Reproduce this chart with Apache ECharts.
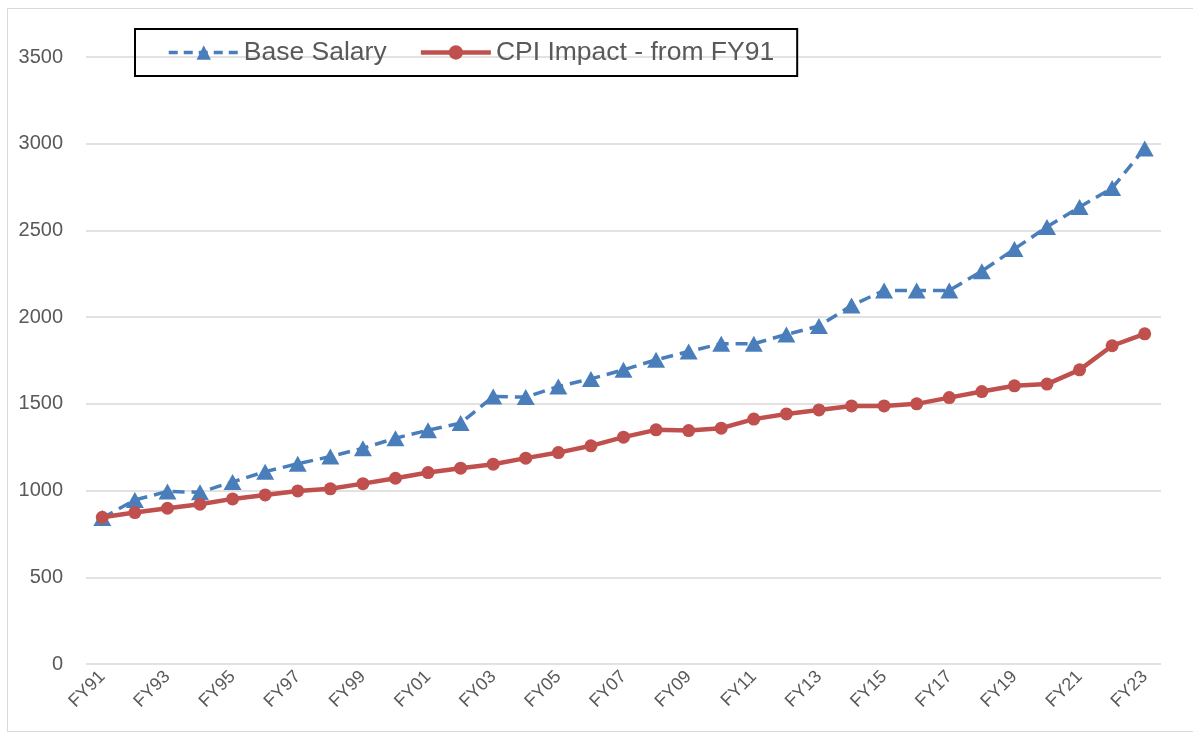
<!DOCTYPE html>
<html>
<head>
<meta charset="utf-8">
<script src="https://cdn.jsdelivr.net/npm/echarts@6/dist/echarts.min.js"></script>
<style>
  html, body { margin: 0; padding: 0; background: #fff; }
  #chart { width: 1193px; height: 734px; }
</style>
</head>
<body>
<div id="chart"></div>
<script>
var categories = ['FY91','FY92','FY93','FY94','FY95','FY96','FY97','FY98','FY99','FY00',
  'FY01','FY02','FY03','FY04','FY05','FY06','FY07','FY08','FY09','FY10',
  'FY11','FY12','FY13','FY14','FY15','FY16','FY17','FY18','FY19','FY20',
  'FY21','FY22','FY23'];
var baseSalary = [842, 946, 995, 990, 1050, 1109, 1155, 1196, 1244, 1302,
  1348, 1389, 1542, 1539, 1600, 1644, 1696, 1754, 1802, 1847,
  1847, 1900, 1949, 2067, 2154, 2154, 2154, 2265, 2393, 2520,
  2635, 2744, 2973];
var cpiImpact = [846, 873, 898, 921, 952, 975, 998, 1010, 1040, 1071,
  1104, 1129, 1152, 1187, 1219, 1258, 1308, 1350, 1346, 1360,
  1412, 1442, 1465, 1488, 1488, 1500, 1536, 1571, 1604, 1614,
  1696, 1835, 1904];
var seriesNames = ['Base Salary', 'CPI Impact - from FY91'];

var FONT = '"Liberation Sans", Arial, sans-serif';
var BLUE = '#4a7ebb', RED = '#c0504d';
var chart = echarts.init(document.getElementById('chart'), null, { renderer: 'canvas' });
chart.setOption({
  animation: false,
  backgroundColor: '#fff',
  graphic: [{
    type: 'rect',
    shape: { x: 7.5, y: 8.5, width: 1200, height: 723 },
    style: { fill: 'none', stroke: '#d9d9d9', lineWidth: 1 },
    silent: true, z: -10
  }],
  grid: { left: 86, right: 32, top: 57, bottom: 70, containLabel: false },
  legend: {
    data: [
      { name: seriesNames[0], lineStyle: { width: 3.5, type: [9, 6], color: BLUE }, itemStyle: { color: BLUE } },
      { name: seriesNames[1], lineStyle: { width: 4.5, color: RED }, itemStyle: { color: RED } }
    ],
    left: 135, top: 29,
    orient: 'horizontal',
    borderColor: '#000', borderWidth: 2,
    padding: [10, 23, 10, 32],
    itemGap: 32,
    itemWidth: 70, itemHeight: 18,
    textStyle: { fontSize: 26.5, color: '#595959', fontFamily: FONT }
  },
  xAxis: {
    type: 'category',
    data: categories,
    boundaryGap: true,
    axisLine: { show: false },
    axisTick: { show: false },
    axisLabel: {
      interval: 1, rotate: 45, fontSize: 18, color: '#595959',
      fontFamily: FONT, margin: 10
    },
    splitLine: { show: false }
  },
  yAxis: {
    type: 'value', min: 0, max: 3500, interval: 500,
    axisLine: { show: false },
    axisTick: { show: false },
    axisLabel: { fontSize: 20, color: '#595959', fontFamily: FONT, margin: 23,
      formatter: function (v) { return String(v); } },
    splitLine: { lineStyle: { color: '#d9d9d9', width: 1.5 } }
  },
  series: [{
    name: seriesNames[0],
    type: 'line',
    data: baseSalary,
    symbol: 'triangle',
    symbolSize: [18, 16],
    color: BLUE,
    itemStyle: { color: BLUE },
    lineStyle: { color: BLUE, width: 3.5, type: [12, 7] },
    z: 2
  }, {
    name: seriesNames[1],
    type: 'line',
    data: cpiImpact,
    symbol: 'circle',
    symbolSize: 13,
    color: RED,
    itemStyle: { color: RED },
    lineStyle: { color: RED, width: 4.5 },
    z: 3
  }]
});
</script>
</body>
</html>
